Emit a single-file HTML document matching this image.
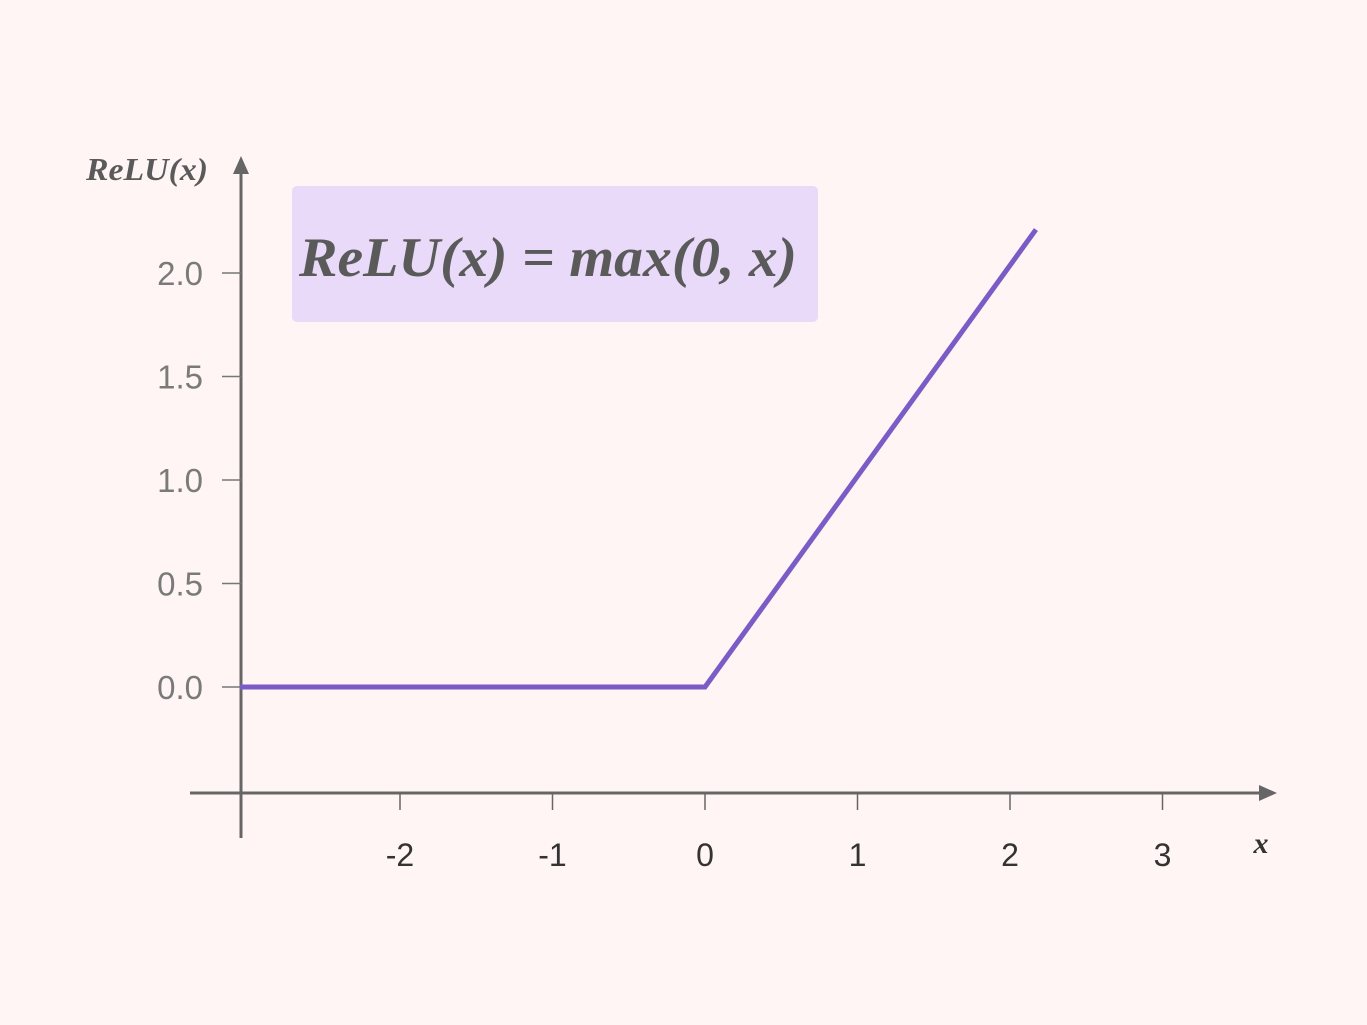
<!DOCTYPE html>
<html><head><meta charset="utf-8"><style>
html,body{margin:0;padding:0;background:#fff5f4;}
svg{display:block;}
</style></head><body>
<svg id="chart" width="1367" height="1025" viewBox="0 0 1367 1025" xmlns="http://www.w3.org/2000/svg">
<rect width="1367" height="1025" fill="#fff5f4"/>
<g id="axes"></g>
<rect x="292" y="186" width="526" height="136" rx="5" fill="#e8daf8"/>
<text x="299" y="276" textLength="498" lengthAdjust="spacingAndGlyphs" font-family="Liberation Serif, serif" font-style="italic" font-weight="bold" font-size="56" fill="#5a5a5a">ReLU(x) = max(0, x)</text>
<text x="86" y="180" textLength="122" lengthAdjust="spacingAndGlyphs" font-family="Liberation Serif, serif" font-style="italic" font-weight="bold" font-size="32" fill="#5a5a5a">ReLU(x)</text>
<text x="1261" y="853" text-anchor="middle" font-family="Liberation Serif, serif" font-style="italic" font-weight="bold" font-size="30" fill="#333">x</text>
</svg>
<script>
const xTicks=[-2,-1,0,1,2,3];
const xTickLabels=["-2","-1","0","1","2","3"];
const yTicks=[0,0.5,1.0,1.5,2.0];
const yTickLabels=["0.0","0.5","1.0","1.5","2.0"];
const lineX=[-3.05,0,2.17];
const lineY=[0,0,2.21];
const NS="http://www.w3.org/2000/svg";
function sx(v){return 705+v*152.5;}
function sy(v){return 687-v*207;}
const g=document.getElementById('axes');
function mk(t,a){const e=document.createElementNS(NS,t);for(const k in a)e.setAttribute(k,a[k]);g.appendChild(e);return e;}
let e;
e=mk('line',{x1:190,y1:793,x2:1262,y2:793,stroke:'#666',"stroke-width":3});


e=mk('polygon',{points:'1277,793 1259,785 1259,801',fill:'#666'});


e=mk('line',{x1:241,y1:838,x2:241,y2:172,stroke:'#666',"stroke-width":3});


e=mk('polygon',{points:'241,156 233,174 249,174',fill:'#666'});


xTicks.forEach((v,i)=>{
  const t=mk('line',{x1:sx(v),y1:793,x2:sx(v),y2:810,stroke:'#666',"stroke-width":1.5});
  
  
  const l=mk('text',{x:sx(v),y:866,"text-anchor":"middle","font-family":"Liberation Sans, sans-serif","font-size":32,fill:'#333'});
  l.textContent=xTickLabels[i];
  
  
});
yTicks.forEach((v,i)=>{
  const t=mk('line',{x1:222,y1:sy(v),x2:241,y2:sy(v),stroke:'#777',"stroke-width":1.5});
  
  
  const l=mk('text',{x:203,y:sy(v)+12,"text-anchor":"end","font-family":"Liberation Sans, sans-serif","font-size":33,fill:'#7a7a7a'});
  l.textContent=yTickLabels[i];
  
  
});
const pts=lineX.map((x,i)=>sx(x)+','+sy(lineY[i])).join(' ');
e=mk('polyline',{points:pts,fill:'none',stroke:'#7b5cc7',"stroke-width":5});


</script>
</body></html>
